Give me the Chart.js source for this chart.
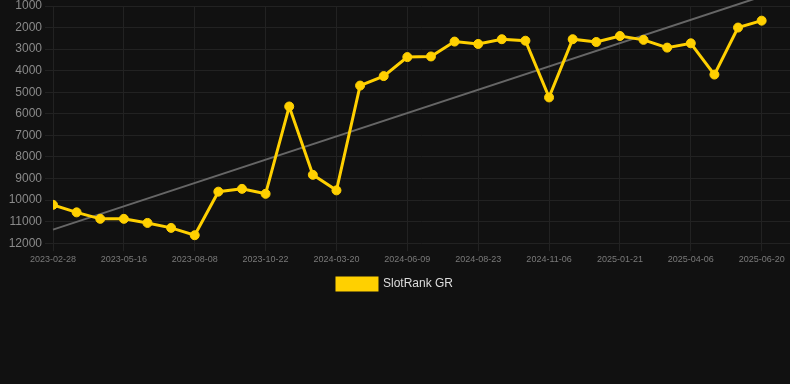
<!DOCTYPE html>
<html>
<head>
<meta charset="utf-8">
<script src="https://cdn.jsdelivr.net/npm/chart.js@4/dist/chart.umd.min.js"></script>
<style>
  html, body { margin: 0; padding: 0; background: #111111; }
  #wrap { width: 790px; height: 300px; position: relative; }
</style>
</head>
<body>
<div id="wrap"><canvas id="c"></canvas></div>
<script>
const dates = [
  '2023-02-28','2023-03-25','2023-04-20','2023-05-16','2023-06-13','2023-07-11',
  '2023-08-08','2023-09-02','2023-09-27','2023-10-22','2023-12-10','2024-01-29',
  '2024-03-20','2024-04-15','2024-05-13','2024-06-09','2024-07-04','2024-07-29',
  '2024-08-23','2024-09-17','2024-10-12','2024-11-06','2024-12-01','2024-12-27',
  '2025-01-21','2025-02-15','2025-03-12','2025-04-06','2025-05-01','2025-05-26',
  '2025-06-20'
];
const ranks = [
  10220, 10570, 10870, 10870, 11060, 11290, 11630, 9610, 9480, 9710,
  5660, 8830, 9550, 4690, 4250, 3370, 3340, 2650, 2760, 2540,
  2610, 5240, 2540, 2670, 2390, 2570, 2930, 2730, 4180, 2000, 1680
];
const trendStart = 11370;
const trendEnd = 560;
const yTicks = [1000,2000,3000,4000,5000,6000,7000,8000,9000,10000,11000,12000];
const seriesName = 'SlotRank GR';

const gold = 'rgb(255, 208, 0)';
const font = "'Liberation Sans', Arial, Helvetica, sans-serif";

new Chart(document.getElementById('c'), {
  type: 'line',
  data: {
    datasets: [
      {
        label: seriesName,
        data: ranks.map((v, i) => ({ x: i, y: v })),
        borderColor: gold,
        backgroundColor: gold,
        pointBackgroundColor: gold,
        pointBorderColor: gold,
        borderWidth: 3,
        pointRadius: 4.5,
        pointBorderWidth: 1,
        tension: 0,
        order: 1
      },
      {
        label: 'trend',
        data: [{ x: 0, y: trendStart }, { x: dates.length - 1, y: trendEnd }],
        borderColor: '#666666',
        backgroundColor: '#666666',
        borderWidth: 2,
        pointRadius: 0,
        clip: false,
        order: 2
      }
    ]
  },
  options: {
    responsive: true,
    maintainAspectRatio: false,
    animation: false,
    layout: { padding: 0, autoPadding: false },
    plugins: {
      tooltip: { enabled: false },
      legend: {
        position: 'bottom',
        labels: {
          filter: (item) => item.text === seriesName,
          boxWidth: 40,
          boxHeight: 12,
          color: '#dddddd',
          font: { family: font, size: 12 }
        }
      }
    },
    scales: {
      x: {
        type: 'linear',
        min: 0,
        max: 31.2,
        afterBuildTicks: (scale) => {
          scale.ticks = dates.map((d, i) => ({ value: i })).filter(t => t.value % 3 === 0);
        },
        ticks: {
          autoSkip: false,
          maxRotation: 0,
          color: '#7a7a7a',
          font: { family: font, size: 9 },
          callback: (v) => dates[v] || ''
        },
        grid: { color: '#222222', tickLength: 8 },
        border: { display: false }
      },
      y: {
        reverse: true,
        min: 1000,
        max: 12000,
        afterBuildTicks: (scale) => {
          scale.ticks = yTicks.map(v => ({ value: v }));
        },
        afterFit: (scale) => { scale.width = 53; scale.paddingTop = 6; },
        ticks: {
          color: '#8a8a8a',
          font: { family: font, size: 12 },
          padding: 3,
          callback: (v) => String(v)
        },
        grid: { color: '#222222', tickLength: 8 },
        border: { display: false }
      }
    }
  }
});
</script>
</body>
</html>
